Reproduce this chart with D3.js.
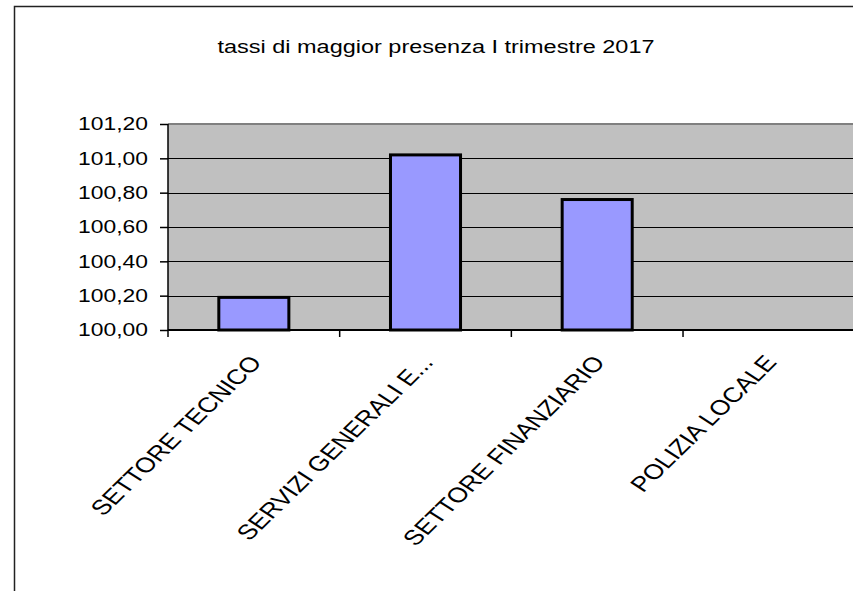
<!DOCTYPE html>
<html>
<head>
<meta charset="utf-8">
<script src="https://cdn.jsdelivr.net/npm/d3@7"></script>
<style>
  html, body { margin: 0; padding: 0; background: #fff; }
  svg { display: block; font-family: Arial, "Liberation Sans", sans-serif; }
</style>
</head>
<body>
<script>
// data
const title = "tassi di maggior presenza I trimestre 2017";
const categories = ["SETTORE TECNICO", "SERVIZI GENERALI E...", "SETTORE FINANZIARIO", "POLIZIA LOCALE"];
const values = [100.19, 101.02, 100.76, null];
const yTicks = [100.0, 100.2, 100.4, 100.6, 100.8, 101.0, 101.2];

const width = 853, height = 591;
const stretch = 1.27; // the source picture is wider than tall text would be
const fontSize = 18;
const labelSize = 21;
const margin = { top: 124, left: 168, bottom: 330, right: 854.7 };

const svg = d3.select("body")
  .append("svg")
  .attr("width", width)
  .attr("height", height);

// outer frame (left and top edges of the pasted chart)
svg.append("path")
  .attr("d", `M14.5,${height} V6.5 H${width}`)
  .attr("fill", "none")
  .attr("stroke", "#222")
  .attr("stroke-width", 1.5);

// title
svg.append("text")
  .attr("transform", `translate(436,53) scale(${stretch},1)`)
  .attr("text-anchor", "middle")
  .attr("font-size", 18.5)
  .attr("fill", "#000")
  .text(title);

// scales
const x = d3.scaleBand()
  .domain(categories)
  .range([margin.left, margin.right])
  .paddingInner(0.592)
  .paddingOuter(0.296);

const y = d3.scaleLinear()
  .domain([100, 101.2])
  .range([margin.bottom, margin.top]);

// plot background
svg.append("rect")
  .attr("x", margin.left)
  .attr("y", margin.top)
  .attr("width", margin.right - margin.left)
  .attr("height", margin.bottom - margin.top)
  .attr("fill", "#c0c0c0");

// gridlines
svg.append("g")
  .selectAll("line")
  .data(yTicks.filter(d => d > 100 && d < 101.2))
  .join("line")
  .attr("x1", margin.left)
  .attr("x2", margin.right)
  .attr("y1", d => Math.round(y(d)) + 0.5)
  .attr("y2", d => Math.round(y(d)) + 0.5)
  .attr("stroke", "#000")
  .attr("stroke-width", 1);

// top border of plot area
svg.append("line")
  .attr("x1", margin.left)
  .attr("x2", margin.right)
  .attr("y1", margin.top)
  .attr("y2", margin.top)
  .attr("stroke", "#808080")
  .attr("stroke-width", 2);

// bars
svg.append("g")
  .selectAll("rect")
  .data(categories.map((c, i) => ({ c, v: values[i] })).filter(d => d.v != null))
  .join("rect")
  .attr("x", d => x(d.c))
  .attr("y", d => y(d.v))
  .attr("width", x.bandwidth())
  .attr("height", d => y(100) - y(d.v))
  .attr("fill", "#9999ff")
  .attr("stroke", "#000")
  .attr("stroke-width", 3);

// y axis
const fmt = d => d3.format(".2f")(d).replace(".", ",");
const yAxis = svg.append("g")
  .attr("transform", `translate(${margin.left},0)`)
  .call(d3.axisLeft(y).tickValues(yTicks).tickSize(8).tickFormat(fmt));
yAxis.select(".domain").remove();
yAxis.selectAll(".tick line").attr("stroke", "#000").attr("stroke-width", 1.5);
yAxis.selectAll(".tick text")
  .attr("x", null)
  .attr("transform", `translate(-20,0) scale(${stretch},1)`)
  .attr("font-size", fontSize)
  .attr("font-family", "Arial, 'Liberation Sans', sans-serif")
  .attr("fill", "#000");

svg.append("line")
  .attr("x1", margin.left)
  .attr("x2", margin.left)
  .attr("y1", margin.top)
  .attr("y2", margin.bottom + 7)
  .attr("stroke", "#000")
  .attr("stroke-width", 1.5);

// baseline
svg.append("line")
  .attr("x1", margin.left)
  .attr("x2", margin.right)
  .attr("y1", margin.bottom)
  .attr("y2", margin.bottom)
  .attr("stroke", "#000")
  .attr("stroke-width", 2);

// category tick marks at band boundaries
const gap = (x.step() - x.bandwidth()) / 2;
svg.append("g")
  .selectAll("line")
  .data(categories.slice(1))
  .join("line")
  .attr("x1", d => x(d) - gap)
  .attr("x2", d => x(d) - gap)
  .attr("y1", margin.bottom)
  .attr("y2", margin.bottom + 7)
  .attr("stroke", "#000")
  .attr("stroke-width", 1.5);

// category labels
const xAxis = svg.append("g")
  .attr("transform", `translate(0,${margin.bottom})`)
  .call(d3.axisBottom(x).tickSize(0));
xAxis.select(".domain").remove();
xAxis.selectAll(".tick text")
  .attr("y", null)
  .attr("dy", null)
  .attr("text-anchor", "end")
  .attr("transform", `translate(9,33) scale(${stretch},1) rotate(-50.8)`)
  .attr("font-size", labelSize)
  .attr("font-family", "Arial, 'Liberation Sans', sans-serif")
  .attr("fill", "#000");
</script>
</body>
</html>
